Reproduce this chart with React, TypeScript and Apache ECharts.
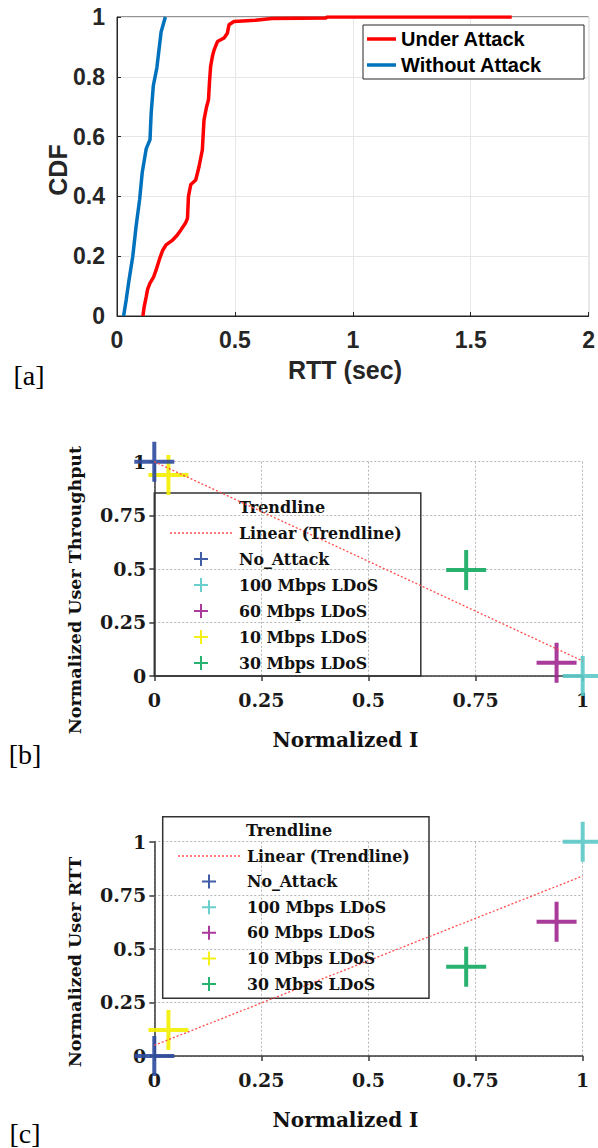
import React, { useEffect, useRef } from "react";
import * as echarts from "echarts";

// ---- Panel [a]: CDF of RTT ----
const rttUnder = [0.11, 0.115, 0.124, 0.13, 0.14, 0.155, 0.166, 0.18, 0.194, 0.208, 0.236, 0.255, 0.271, 0.29, 0.299, 0.303, 0.313, 0.334, 0.348, 0.362, 0.365, 0.369, 0.38, 0.388, 0.392, 0.397, 0.405, 0.412, 0.426, 0.454, 0.468, 0.475, 0.496, 0.587, 0.657, 0.887, 0.89, 1.674];
const cdfUnder = [0, 0.03, 0.065, 0.09, 0.11, 0.13, 0.154, 0.19, 0.22, 0.238, 0.254, 0.27, 0.288, 0.31, 0.327, 0.4, 0.44, 0.455, 0.5, 0.556, 0.6, 0.656, 0.7, 0.723, 0.78, 0.835, 0.87, 0.89, 0.918, 0.93, 0.946, 0.974, 0.985, 0.989, 0.995, 0.997, 1, 1];
const rttWithout = [0.028, 0.039, 0.051, 0.067, 0.081, 0.096, 0.107, 0.124, 0.14, 0.145, 0.154, 0.169, 0.187, 0.205];
const cdfWithout = [0, 0.054, 0.12, 0.2, 0.3, 0.39, 0.48, 0.56, 0.59, 0.68, 0.77, 0.83, 0.95, 1];
const xTicksA = [0, 0.5, 1, 1.5, 2];

// ---- Panels [b] and [c] ----
const attackNames = ["No_Attack", "100 Mbps LDoS", "60 Mbps LDoS", "10 Mbps LDoS", "30 Mbps LDoS"];
const attackColors = ["#2e4a9e", "#5cc8c8", "#a0268f", "#f5ee00", "#12a860"];
const normalizedI = [0, 1, 0.939, 0.033, 0.728];
const normThroughput = [1, 0, 0.062, 0.938, 0.495];
const normRTT = [0, 1, 0.627, 0.121, 0.417];
const trendX = [0, 1];
const trendThroughput = [1.0, 0.07];
const trendRTT = [0.05, 0.84];
const trendName = "Linear (Trendline)";

const BIG_CROSS = "path://M9,0H11V9H20V11H11V20H9V11H0V9H9Z";
const SMALL_CROSS = "path://M6,0H8V6H14V8H8V14H6V8H0V6H6Z";
const SOLID_LINE_ICON = "path://M0,0H29V3.5H0Z";
const DOTTED_LINE_ICON =
  "path://" +
  Array.from({ length: 16 }, (_, k) => `M${4 * k},0H${4 * k + 2}V1.3H${4 * k}Z`).join("");

const TREND_COLOR = "#ff4d4d";

const sansBold = (size: number, color = "#262626") => ({
  fontFamily: "Liberation Sans",
  fontWeight: "bold" as const,
  fontSize: size,
  color,
});
const serifBold = (size: number, color = "#1a1a1a") => ({
  fontFamily: "DejaVu Serif",
  fontWeight: "bold" as const,
  fontSize: size,
  color,
});

function scatterAxes(gridIndex: number) {
  const common = {
    type: "value",
    gridIndex,
    min: 0,
    max: 1,
    interval: 0.25,
    axisLine: { show: true, onZero: false, lineStyle: { color: "#3a3a3a", width: 1.5 } },
    axisTick: { show: true, inside: false, length: 5, lineStyle: { color: "#3a3a3a", width: 1.5 } },
    splitLine: { show: true, lineStyle: { color: "#b5b5b5", type: [2, 2], width: 1 } },
  };
  const x = { ...common, axisLabel: { ...serifBold(19), margin: 14 } };
  const y = { ...common, axisLabel: { ...serifBold(19), margin: 8 } };
  return { x, y };
}

function scatterSeries(axisIndex: number, yValues: number[], trendY: number[]) {
  const out: any[] = [];
  const order = [3, 4, 2, 1, 0];
  order.forEach((i) => {
    out.push({
      name: attackNames[i],
      type: "scatter",
      xAxisIndex: axisIndex,
      yAxisIndex: axisIndex,
      symbol: BIG_CROSS,
      symbolSize: 40,
      clip: false,
      itemStyle: { color: attackColors[i], opacity: 0.9 },
      data: [[normalizedI[i], yValues[i]]],
      z: 3,
    });
  });
  out.push({
    name: trendName,
    type: "line",
    xAxisIndex: axisIndex,
    yAxisIndex: axisIndex,
    symbol: "none",
    itemStyle: { color: TREND_COLOR },
    lineStyle: { color: TREND_COLOR, width: 1.3, type: [2, 2] },
    data: trendX.map((x, k) => [x, trendY[k]]),
    z: 4,
  });
  return out;
}

function scatterLegend(left: number, top: number, gap: number) {
  return {
    orient: "vertical",
    left,
    top,
    padding: 0,
    itemWidth: 62,
    itemHeight: 14,
    itemGap: gap,
    selectedMode: false,
    textStyle: { ...serifBold(15.8, "#111"), lineHeight: 16, padding: [0, 0, 0, 2] },
    data: [
      { name: trendName, icon: DOTTED_LINE_ICON },
      ...attackNames.map((n) => ({ name: n, icon: SMALL_CROSS })),
    ],
    z: 5,
  };
}

function buildOption() {
  const b = scatterAxes(1);
  const c = scatterAxes(2);
  return {
    animation: false,
    backgroundColor: "#ffffff",
    grid: [
      { left: 117, top: 17, width: 475, height: 299, show: true, borderColor: "#262626", borderWidth: 1, backgroundColor: "#fff" },
      { left: 154.3, top: 461.7, width: 428.4, height: 214.3 },
      { left: 154.3, top: 841.7, width: 428.4, height: 214.3 },
    ],
    xAxis: [
      {
        type: "value",
        gridIndex: 0,
        min: xTicksA[0],
        max: xTicksA[xTicksA.length - 1],
        interval: 0.5,
        axisLine: { show: true, lineStyle: { color: "#262626", width: 1 } },
        axisTick: { show: true, inside: true, length: 4, lineStyle: { color: "#262626" } },
        axisLabel: { ...sansBold(23), margin: 12 },
        splitLine: { show: true, lineStyle: { color: "#e6e6e6", width: 1 } },
      },
      b.x,
      c.x,
    ],
    yAxis: [
      {
        type: "value",
        gridIndex: 0,
        min: 0,
        max: 1,
        interval: 0.2,
        axisLine: { show: true, lineStyle: { color: "#262626", width: 1 } },
        axisTick: { show: true, inside: true, length: 4, lineStyle: { color: "#262626" } },
        axisLabel: { ...sansBold(23), margin: 12 },
        splitLine: { show: true, lineStyle: { color: "#e6e6e6", width: 1 } },
      },
      b.y,
      c.y,
    ],
    legend: [
      {
        orient: "vertical",
        left: 367,
        top: 29,
        padding: 0,
        itemWidth: 29,
        itemHeight: 14,
        itemGap: 6,
        selectedMode: false,
        textStyle: { ...sansBold(20, "#000"), lineHeight: 20 },
        data: [
          { name: "Under Attack", icon: SOLID_LINE_ICON },
          { name: "Without Attack", icon: SOLID_LINE_ICON },
        ],
        z: 6,
      },
      scatterLegend(170, 525, 10),
      scatterLegend(178, 848, 9.6),
    ],
    series: [
      {
        name: "Under Attack",
        type: "line",
        xAxisIndex: 0,
        yAxisIndex: 0,
        symbol: "none",
        lineStyle: { color: "#ff0000", width: 3.5 },
        itemStyle: { color: "#ff0000" },
        data: rttUnder.map((x, i) => [x, cdfUnder[i]]),
        z: 3,
      },
      {
        name: "Without Attack",
        type: "line",
        xAxisIndex: 0,
        yAxisIndex: 0,
        symbol: "none",
        lineStyle: { color: "#0072bd", width: 3.5 },
        itemStyle: { color: "#0072bd" },
        data: rttWithout.map((x, i) => [x, cdfWithout[i]]),
        z: 3,
      },
      ...scatterSeries(1, normThroughput, trendThroughput),
      ...scatterSeries(2, normRTT, trendRTT),
    ],
    graphic: {
      elements: [
        // panel a legend box
        { type: "rect", z: 5, shape: { x: 363, y: 25, width: 221, height: 54 }, style: { fill: "#ffffff", stroke: "#262626", lineWidth: 1 } },
        { type: "text", x: 345, y: 370, style: { text: "RTT (sec)", fill: "#262626", font: 'bold 25px "Liberation Sans"', textAlign: "center", textVerticalAlign: "middle" } },
        { type: "text", x: 58, y: 170, rotation: Math.PI / 2, style: { text: "CDF", fill: "#262626", font: 'bold 25px "Liberation Sans"', textAlign: "center", textVerticalAlign: "middle" } },
        { type: "text", x: 29, y: 375, style: { text: "[a]", fill: "#000", font: '28px "Liberation Serif"', textAlign: "center", textVerticalAlign: "middle" } },
        // panel b
        { type: "rect", z: 3, shape: { x: 154.3, y: 493, width: 266.5, height: 183 }, style: { fill: "none", stroke: "#333", lineWidth: 1.5 } },
        { type: "text", x: 239, y: 507, style: { text: "Trendline", fill: "#111", font: 'bold 16px "DejaVu Serif"', textAlign: "left", textVerticalAlign: "middle" } },
        { type: "text", x: 345.5, y: 740, style: { text: "Normalized I", fill: "#111", font: 'bold 20px "DejaVu Serif"', textAlign: "center", textVerticalAlign: "middle" } },
        { type: "text", x: 75, y: 590, rotation: Math.PI / 2, style: { text: "Normalized User Throughput", fill: "#111", font: 'bold 17.5px "DejaVu Serif"', textAlign: "center", textVerticalAlign: "middle" } },
        { type: "text", x: 25, y: 754, style: { text: "[b]", fill: "#000", font: '28px "Liberation Serif"', textAlign: "center", textVerticalAlign: "middle" } },
        // panel c
        { type: "rect", z: 3, shape: { x: 162.7, y: 816.7, width: 266.3, height: 181.6 }, style: { fill: "none", stroke: "#333", lineWidth: 1.5 } },
        { type: "text", x: 246, y: 830, style: { text: "Trendline", fill: "#111", font: 'bold 16px "DejaVu Serif"', textAlign: "left", textVerticalAlign: "middle" } },
        { type: "text", x: 345.5, y: 1120, style: { text: "Normalized I", fill: "#111", font: 'bold 20px "DejaVu Serif"', textAlign: "center", textVerticalAlign: "middle" } },
        { type: "text", x: 75, y: 962, rotation: Math.PI / 2, style: { text: "Normalized User RTT", fill: "#111", font: 'bold 17.5px "DejaVu Serif"', textAlign: "center", textVerticalAlign: "middle" } },
        { type: "text", x: 25, y: 1133, style: { text: "[c]", fill: "#000", font: '28px "Liberation Serif"', textAlign: "center", textVerticalAlign: "middle" } },
      ],
    },
  };
}

export default function App() {
  const ref = useRef<HTMLDivElement>(null);
  useEffect(() => {
    if (!ref.current) return;
    const chart = echarts.init(ref.current, undefined, { renderer: "svg" });
    chart.setOption(buildOption() as any);
    return () => chart.dispose();
  }, []);
  return (
    <div
      ref={ref}
      style={{ position: "fixed", left: 0, top: 0, width: 598, height: 1148, background: "#fff" }}
    />
  );
}
